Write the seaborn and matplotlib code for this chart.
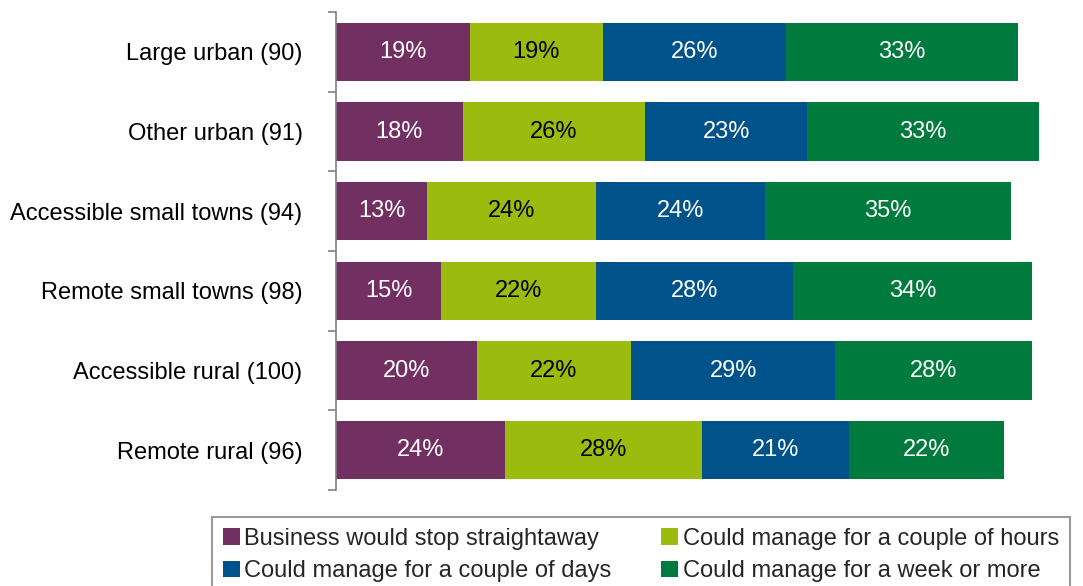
import matplotlib
matplotlib.use("Agg")
import matplotlib.pyplot as plt
import numpy as np
import pandas as pd
import seaborn as sns
from matplotlib.patches import Patch

CATEGORIES = [
    "Large urban (90)",
    "Other urban (91)",
    "Accessible small towns (94)",
    "Remote small towns (98)",
    "Accessible rural (100)",
    "Remote rural (96)",
]
SERIES = [
    "Business would stop straightaway",
    "Could manage for a couple of hours",
    "Could manage for a couple of days",
    "Could manage for a week or more",
]
STOP_NOW = [19, 18, 13, 15, 20, 24]
HOURS = [19, 26, 24, 22, 22, 28]
DAYS = [26, 23, 24, 28, 29, 21]
WEEK = [33, 33, 35, 34, 28, 22]

COLORS = ["#722F62", "#9BBB0F", "#00528A", "#007A3D"]
TEXT_COLORS = ["white", "black", "white", "white"]

sns.set_theme(style="white")
plt.rcParams["font.family"] = ["Liberation Sans", "DejaVu Sans"]

values = np.array([STOP_NOW, HOURS, DAYS, WEEK], dtype=float)
cum = values.cumsum(axis=0)

fig = plt.figure(figsize=(10.83, 5.86), dpi=100)
ax = fig.add_axes([0.3102, 0.1638, 0.6492, 0.8157])

# stacked look: draw cumulative totals from the widest down
for i in range(len(SERIES) - 1, -1, -1):
    df = pd.DataFrame({"cat": CATEGORIES, "val": cum[i]})
    sns.barplot(data=df, x="val", y="cat", color=COLORS[i], orient="h",
                width=0.73, saturation=1, ax=ax, linewidth=0)

for i in range(len(SERIES)):
    starts = cum[i] - values[i]
    for j, cat in enumerate(CATEGORIES):
        ax.text(starts[j] + values[i][j] / 2, j, f"{int(values[i][j])}%",
                ha="center", va="center", fontsize=17, color=TEXT_COLORS[i])

ax.set_xlim(0, 100)
ax.set_ylim(len(CATEGORIES) - 0.5, -0.5)
ax.set_xlabel("")
ax.set_ylabel("")
ax.xaxis.set_visible(False)
for side in ["top", "right", "bottom"]:
    ax.spines[side].set_visible(False)
ax.spines["left"].set_color("#808080")
ax.spines["left"].set_linewidth(1.2)
ax.tick_params(axis="y", which="major", length=0, labelsize=17, pad=24, colors="black")
ax.set_yticks(np.arange(-0.5, len(CATEGORIES)), minor=True)
ax.tick_params(axis="y", which="minor", length=6, width=1.2, color="#808080", left=True)

handles = [Patch(facecolor=c, edgecolor="none") for c in COLORS]
order = [0, 2, 1, 3]
leg = fig.legend([handles[k] for k in order], [SERIES[k] for k in order],
                 loc="upper left", bbox_to_anchor=(212 / 1083, 1 - 517 / 586),
                 ncol=2, fontsize=17, frameon=True, fancybox=False,
                 handlelength=0.72, handleheight=0.72, handletextpad=0.2,
                 columnspacing=2.1, labelspacing=0.45, borderpad=0.45,
                 borderaxespad=0)
leg.get_frame().set_edgecolor("#808080")
leg.get_frame().set_linewidth(1.5)

fig.savefig("out.png", dpi=100)
